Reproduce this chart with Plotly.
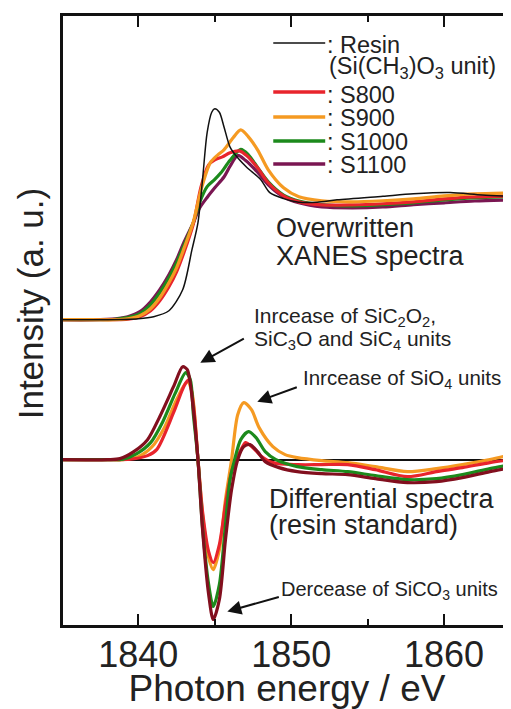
import plotly.graph_objects as go

# ---------------- data ----------------
# XANES spectra, normalized (edge step ~ 1)
resin_E = [1835, 1838, 1840, 1841, 1842, 1842.9, 1843.5, 1843.9, 1844.2, 1844.5, 1844.8, 1845.0, 1845.3,
           1845.6, 1846.0, 1846.5, 1847.1, 1848.0, 1848.6, 1849.5, 1850.5, 1851.7, 1853, 1856, 1858, 1860.4,
           1862.5, 1864.4]
resin_I = [0, 0, 0.008, 0.025, 0.075, 0.25, 0.58, 0.81, 1.17, 1.56, 1.73, 1.76, 1.73,
           1.61, 1.44, 1.35, 1.27, 1.17, 1.06, 1.01, 0.98, 0.98, 1.00, 1.03, 1.05, 1.06,
           1.04, 1.03]

s1100_E = [1835, 1837, 1838.5, 1839.3, 1840.1, 1840.8, 1841.4, 1842.0, 1842.5, 1843.0, 1843.6, 1844.0,
           1844.5, 1845.0, 1845.6, 1846.0, 1846.5, 1847.0, 1847.8, 1848.5, 1849.5, 1850.5, 1852, 1854,
           1856, 1858, 1860, 1862, 1864.4]
s1100_I = [0, 0, 0.008, 0.025, 0.067, 0.15, 0.25, 0.375, 0.5, 0.65, 0.81, 0.93,
           1.02, 1.10, 1.19, 1.28, 1.37, 1.33, 1.23, 1.125, 1.025, 0.975, 0.94, 0.933,
           0.94, 0.96, 0.975, 0.99, 1.0]

s1000_E = [1835, 1837, 1838.5, 1839.3, 1840.1, 1840.8, 1841.4, 1842.0, 1842.5, 1843.0, 1843.6, 1844.0,
           1844.5, 1845.0, 1845.4, 1846.0, 1846.7, 1847.2, 1847.8, 1848.5, 1849.5, 1850.5, 1852, 1854,
           1856, 1858, 1860, 1862, 1864.4]
s1000_I = [0, 0, 0.004, 0.017, 0.05, 0.125, 0.225, 0.35, 0.475, 0.625, 0.81, 0.975,
           1.11, 1.17, 1.225, 1.33, 1.42, 1.375, 1.27, 1.15, 1.04, 0.99, 0.96, 0.95,
           0.96, 0.975, 1.0, 1.017, 1.025]

s900_E = [1835, 1837, 1838.5, 1839.3, 1840.1, 1840.8, 1841.4, 1842.0, 1842.5, 1843.0, 1843.6, 1844.1,
          1844.7, 1845.2, 1845.6, 1846.2, 1846.7, 1847.2, 1847.8, 1848.5, 1849.5, 1850.5, 1852, 1854,
          1856, 1858, 1860, 1862, 1864.4]
s900_I = [0, 0, 0, 0.008, 0.033, 0.092, 0.183, 0.308, 0.433, 0.6, 0.817, 1.083,
          1.308, 1.375, 1.417, 1.517, 1.583, 1.525, 1.417, 1.25, 1.1, 1.025, 0.992, 0.983,
          0.992, 1.008, 1.033, 1.05, 1.058]

s800_E = [1835, 1837, 1838.5, 1839.3, 1840.1, 1840.8, 1841.4, 1842.0, 1842.5, 1843.0, 1843.6, 1844.1,
          1844.6, 1845.0, 1845.5, 1846.0, 1846.6, 1847.1, 1847.8, 1848.5, 1849.5, 1850.5, 1852, 1854,
          1856, 1858, 1860, 1862, 1864.4]
s800_I = [0, 0, 0, 0.004, 0.025, 0.075, 0.158, 0.275, 0.4, 0.567, 0.8, 1.108,
          1.292, 1.333, 1.358, 1.392, 1.408, 1.367, 1.267, 1.142, 1.033, 0.983, 0.958, 0.958,
          0.967, 0.983, 1.008, 1.025, 1.033]

# Differential spectra (sample - resin), arbitrary units
d1100_E = [1835, 1838, 1838.8, 1839.7, 1840.6, 1841.4, 1842.3, 1842.9, 1843.2, 1843.6, 1843.9, 1844.2,
           1844.6, 1844.9, 1845.3, 1845.7, 1846.1, 1846.5, 1846.9, 1847.3, 1847.8, 1848.3, 1849.2, 1850.4,
           1852, 1853.7, 1855.5, 1857.6, 1859.5, 1861.2, 1863, 1864.4]
d1100_I = [0, 0, 0.01, 0.08, 0.20, 0.43, 0.73, 0.93, 0.90, 0.50, 0, -0.70,
           -1.35, -1.60, -1.40, -0.80, -0.30, 0, 0.13, 0.15, 0.08, -0.02, -0.08, -0.12,
           -0.14, -0.15, -0.19, -0.23, -0.22, -0.18, -0.12, -0.08]

d1000_E = [1835, 1838, 1839, 1839.9, 1840.8, 1841.6, 1842.4, 1843.1, 1843.4, 1843.6, 1843.9, 1844.2,
           1844.6, 1844.9, 1845.3, 1845.7, 1846.0, 1846.3, 1846.7, 1847.2, 1847.7, 1848.3, 1849, 1850.4,
           1852, 1853.7, 1855.5, 1857.6, 1859.5, 1861.2, 1863, 1864.4]
d1000_I = [0, 0, 0.005, 0.06, 0.17, 0.38, 0.66, 0.87, 0.80, 0.45, 0, -0.68,
           -1.25, -1.47, -1.25, -0.65, -0.2, 0, 0.20, 0.28, 0.22, 0.08, 0.0, -0.07,
           -0.10, -0.12, -0.16, -0.20, -0.19, -0.15, -0.09, -0.05]

d900_E = [1835, 1838, 1839, 1840, 1840.9, 1841.7, 1842.5, 1843.2, 1843.5, 1843.9, 1844.2, 1844.6,
          1844.9, 1845.3, 1845.7, 1846.1, 1846.5, 1846.9, 1847.4, 1847.9, 1848.8, 1849.6, 1850.4, 1852,
          1853.7, 1855.5, 1857.6, 1859.5, 1861.2, 1863, 1864.4]
d900_I = [0, 0, 0, 0.03, 0.13, 0.32, 0.60, 0.78, 0.68, 0, -0.55, -0.98,
          -1.10, -0.90, -0.40, 0, 0.45, 0.57, 0.50, 0.32, 0.13, 0.05, 0.02, -0.01,
          -0.03, -0.07, -0.12, -0.09, -0.05, 0.0, 0.05]

d800_E = [1835, 1838, 1839.5, 1840.6, 1841.2, 1842.3, 1843.0, 1843.3, 1843.6, 1843.9, 1844.2, 1844.6,
          1844.9, 1845.3, 1845.7, 1846.1, 1846.4, 1846.9, 1847.0, 1847.5, 1848.0, 1848.8, 1850.4, 1852,
          1853.7, 1855.5, 1857.6, 1859.5, 1861.2, 1863, 1864.4]
d800_I = [0, 0, 0.005, 0.04, 0.10, 0.47, 0.74, 0.80, 0.55, 0, -0.52, -0.92,
          -1.03, -0.85, -0.45, -0.12, 0, 0.15, 0.17, 0.12, 0.04, -0.03, -0.05, -0.05,
          -0.05, -0.10, -0.17, -0.12, -0.08, -0.03, 0.0]

x_ticks = [1840, 1850, 1860]
x_minor = [1845, 1855]

# ---------------- styling ----------------
FONT = "Liberation Sans, Arial, Helvetica, sans-serif"
TXT = "#222"
C_RES = "#111111"
C800 = "#e8242c"
C900 = "#f59a22"
C1000 = "#1c8a1c"
C1100 = "#7a1652"
C1100D = "#820f1e"

# page offset of the plotly div inside the html body (default body margin)
OFF = 8
W, H = 503, 701
# plot-area edges in page pixels
P_L, P_R, P_T, P_B = 62.5, 511, 16, 625.5
ML, MR, MT, MB = P_L - OFF, 0, P_T - OFF, H - (P_B - OFF)
PW, PH = P_R - P_L, P_B - P_T


def X(px):
    return (px - P_L) / PW


def Y(py):
    return (P_B - py) / PH


fig = go.Figure()


def line(x, y, color, width, axis):
    fig.add_trace(go.Scatter(x=x, y=y, mode="lines", yaxis=axis, showlegend=False,
                             line=dict(color=color, width=width, shape="spline", smoothing=0.8),
                             hoverinfo="skip"))


# XANES (upper, on y2)
line(s1100_E, s1100_I, C1100, 3.2, "y2")
line(s1000_E, s1000_I, C1000, 3.2, "y2")
line(s800_E, s800_I, C800, 3.2, "y2")
line(s900_E, s900_I, C900, 3.2, "y2")
line(resin_E, resin_I, C_RES, 1.5, "y2")

# Differential (lower, on y)
line(d900_E, d900_I, C900, 3.2, "y")
line(d800_E, d800_I, C800, 3.2, "y")
line(d1000_E, d1000_I, C1000, 3.2, "y")
line(d1100_E, d1100_I, C1100D, 3.2, "y")

annotations = []
shapes = []


def label(px, py, text, size):
    annotations.append(dict(xref="paper", yref="paper", x=X(px), y=Y(py), text=text, showarrow=False,
                            xanchor="left", yanchor="middle", align="left",
                            font=dict(size=size, color=TXT)))


# custom legend
leg = [
    (43, 45, C_RES, 1.5, ": Resin"),
    (92, 95, C800, 3.5, ": S800"),
    (117, 118, C900, 3.5, ": S900"),
    (141, 142, C1000, 3.5, ": S1000"),
    (164, 165, C1100, 3.5, ": S1100"),
]
for ly, ty, col, lw, txt in leg:
    shapes.append(dict(type="line", xref="paper", yref="paper", x0=X(273), x1=X(325), y0=Y(ly), y1=Y(ly),
                       line=dict(color=col, width=lw)))
    label(325, ty, txt, 23.5)
label(327, 68, "(Si(CH<sub>3</sub>)O<sub>3</sub> unit)", 23.5)

# text labels
label(274, 228, "Overwritten", 27)
label(274, 256, "XANES spectra", 27)
label(267, 499, "Differential spectra", 27)
label(267, 525, "(resin standard)", 27)
label(252, 317, "Inrcease of SiC<sub>2</sub>O<sub>2</sub>,", 21)
label(252, 340, "SiC<sub>3</sub>O and SiC<sub>4</sub> units", 21)
label(301, 379, "Inrcease of SiO<sub>4</sub> units", 20.5)
label(279, 591, "Dercease of SiCO<sub>3</sub> units", 20)

# arrows
for hx, hy, tx, ty in [(200, 363, 245, 338), (257, 402, 298, 387), (227, 612, 280, 597)]:
    annotations.append(dict(xref="paper", yref="paper", x=X(hx), y=Y(hy), ax=tx - hx, ay=ty - hy,
                            text="", showarrow=True, arrowhead=2, arrowsize=1.4, arrowwidth=2,
                            arrowcolor="#111"))

# y-axis title placed as rotated text, centred where the reference has it
annotations.append(dict(xref="paper", yref="paper", x=X(30), y=Y(304), text="Intensity (a. u.)",
                        textangle=-90, showarrow=False, xanchor="center", yanchor="middle",
                        font=dict(size=35, color=TXT)))

fig.update_layout(
    width=W, height=H,
    margin=dict(l=ML, r=MR, t=MT, b=MB, autoexpand=False),
    paper_bgcolor="white", plot_bgcolor="white",
    font=dict(family=FONT, color=TXT),
    xaxis=dict(range=[1835.07, 1864.38], tickvals=x_ticks, ticks="inside", ticklen=11, tickwidth=2,
               tickcolor="#111", showline=True, linewidth=3, linecolor="#111", mirror="ticks",
               showgrid=False, zeroline=False, tickfont=dict(size=36, color=TXT),
               ticklabelstandoff=-4,
               minor=dict(tickvals=x_minor, ticks="inside", ticklen=6, tickwidth=2, tickcolor="#111",
                          showgrid=False),
               title=dict(text="Photon energy / eV", font=dict(size=37, color=TXT), standoff=10),
               automargin=False),
    yaxis=dict(range=[-1.655, 4.44], showticklabels=False, ticks="", showgrid=False,
               showline=True, linewidth=3, linecolor="#111", mirror=False,
               zeroline=True, zerolinecolor="#111", zerolinewidth=1.5,
               automargin=False),
    yaxis2=dict(range=[-2.546, 2.533], overlaying="y", visible=False),
    annotations=annotations,
    shapes=shapes,
)

fig.write_html("out.html")
